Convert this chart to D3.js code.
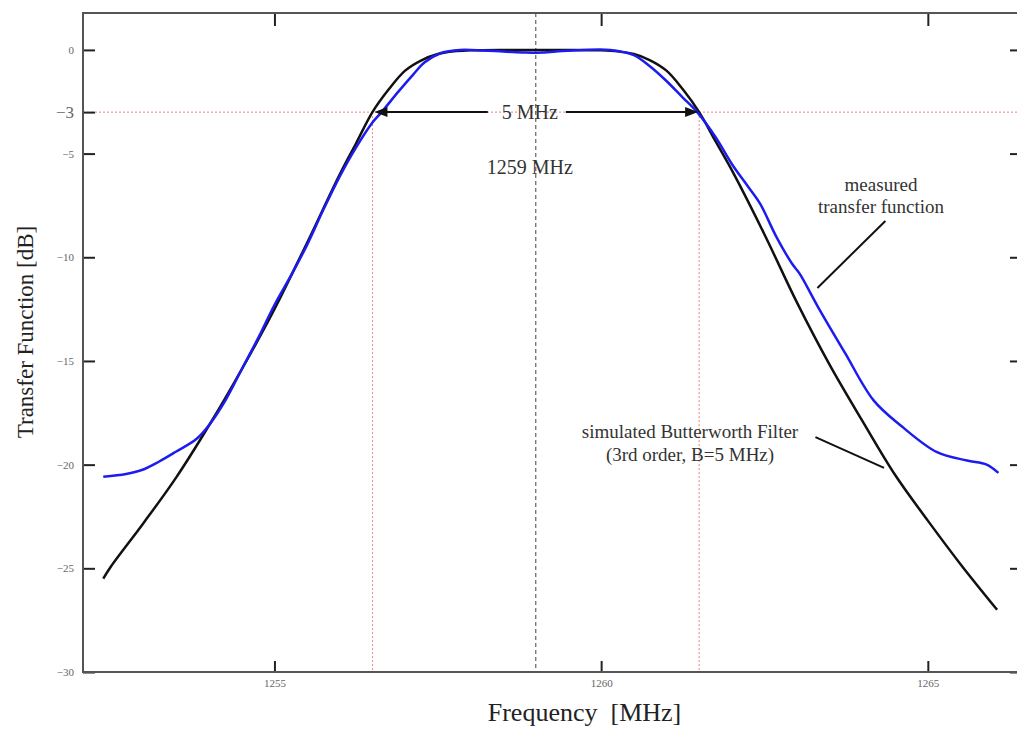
<!DOCTYPE html>
<html>
<head>
<meta charset="utf-8">
<script src="https://cdn.jsdelivr.net/npm/d3@7"></script>
<style>
	body { margin: 0; background: #fff; }
	text { font-family: "Liberation Serif", "Times New Roman", serif; }
</style>
</head>
<body>
<div id="chart"></div>
<script>

// simulated Butterworth filter (3rd order, B = 5 MHz)
let simFreq = [1252.38, 1252.5, 1253, 1253.5, 1254, 1254.5, 1255, 1255.5, 1256, 1256.25, 1256.5, 1256.75, 1257, 1257.25, 1257.5, 1257.75, 1258, 1258.5, 1259, 1259.5, 1260, 1260.25, 1260.5, 1260.75, 1261, 1261.25, 1261.5, 1261.75, 1262, 1262.5, 1263, 1263.5, 1264, 1264.5, 1265, 1265.5, 1266.06];
let simDb = [-25.5, -24.9, -22.8, -20.6, -18.1, -15.4, -12.5, -9.3, -6.0, -4.5, -3.0, -1.9, -1.0, -0.5, -0.2, -0.06, -0.02, 0, 0, 0, -0.02, -0.07, -0.2, -0.5, -1.0, -1.9, -3.0, -4.4, -5.8, -8.9, -12.2, -15.2, -17.9, -20.5, -22.7, -24.8, -27.0];

// measured transfer function
let measFreq = [1252.38, 1252.73, 1252.97, 1253.23, 1253.49, 1253.81, 1254.01, 1254.25, 1254.5, 1254.75, 1255, 1255.25, 1255.5, 1255.75, 1256, 1256.25, 1256.5, 1256.64, 1256.9, 1257.12, 1257.3, 1257.55, 1257.84, 1258.2, 1258.5, 1258.8, 1259.1, 1259.4, 1259.72, 1260.14, 1260.5, 1260.75, 1261, 1261.25, 1261.47, 1261.75, 1262, 1262.25, 1262.43, 1262.68, 1262.92, 1263.04, 1263.32, 1263.73, 1264.17, 1264.58, 1265.14, 1265.6, 1265.9, 1266.08];
let measDb = [-20.58, -20.45, -20.26, -19.86, -19.38, -18.75, -18.05, -16.9, -15.4, -13.9, -12.3, -10.9, -9.4, -7.7, -6.1, -4.7, -3.5, -3.0, -2.0, -1.2, -0.6, -0.15, 0, -0.03, -0.08, -0.12, -0.13, -0.05, 0, 0, -0.25, -0.8, -1.5, -2.3, -3.0, -4.2, -5.5, -6.6, -7.4, -9.0, -10.3, -10.8, -12.4, -14.6, -16.9, -18.1, -19.4, -19.8, -20.0, -20.4];

let xTicks = [1255, 1260, 1265];
let yTicks = [0, -3, -5, -10, -15, -20, -25, -30];

let centerFreq = 1259;
let bandEdges = [1256.5, 1261.5];
let cutoffDb = -3;


let chart = {};

chart.draw = function() {
	this.width = 1017;
	this.height = 731;
	this.left = 83;
	this.right = 1018;
	this.top = 13;
	this.bottom = 672;

	this.createSVG();
	this.createScales();
	this.createGuides();
	this.createAxes();
	this.createLines();
	this.createAnnotations();
}

chart.createSVG = function() {
	this.svg = d3.select('#chart')
		.append('svg')
			.attr('width', this.width)
			.attr('height', this.height)
			.style('background', '#fff');
}

chart.createScales = function() {
	this.xScale = d3.scaleLinear()
		.domain([1252.07, 1266.38])
		.range([this.left, this.right]);

	this.yScale = d3.scaleLinear()
		.domain([-30, 1.78])
		.range([this.bottom, this.top]);
}

chart.createGuides = function() {
	let that = this;

	// -3 dB line
	this.svg.append('line')
		.attr('x1', this.left)
		.attr('x2', this.right)
		.attr('y1', this.yScale(cutoffDb))
		.attr('y2', this.yScale(cutoffDb))
		.attr('stroke', '#f08080')
		.attr('stroke-width', 1)
		.attr('stroke-dasharray', '2,2');

	this.svg.selectAll('.edge')
		.data(bandEdges)
		.enter().append('line')
			.attr('class', 'edge')
			.attr('x1', function(d) { return that.xScale(d); })
			.attr('x2', function(d) { return that.xScale(d); })
			.attr('y1', this.yScale(cutoffDb))
			.attr('y2', this.bottom)
			.attr('stroke', '#f08080')
			.attr('stroke-width', 1)
			.attr('stroke-dasharray', '2,2');

	// centre frequency
	this.svg.append('line')
		.attr('x1', this.xScale(centerFreq))
		.attr('x2', this.xScale(centerFreq))
		.attr('y1', this.top)
		.attr('y2', this.bottom)
		.attr('stroke', '#444')
		.attr('stroke-width', 1)
		.attr('stroke-dasharray', '4,3');
}

chart.createAxes = function() {
	let that = this;

	let minus = function(d) {
		return d == 0 ? '0' : '\u2212' + Math.abs(d);
	};

	let yAxis = d3.axisLeft(this.yScale)
		.tickValues(yTicks)
		.tickSize(-12)
		.tickPadding(9)
		.tickFormat(minus);

	let gy = this.svg.append('g')
		.attr('transform', `translate(${this.left}, 0)`)
		.call(yAxis);
	gy.selectAll('text')
		.attr('fill', '#666')
		.style('font-size', function(d) { return d == -3 ? '17px' : '11px'; });

	let xAxis = d3.axisBottom(this.xScale)
		.tickValues(xTicks)
		.tickSize(-11)
		.tickPadding(7)
		.tickFormat(d3.format('d'));

	let gx = this.svg.append('g')
		.attr('transform', `translate(0, ${this.bottom})`)
		.call(xAxis);
	gx.selectAll('text')
		.attr('fill', '#666')
		.style('font-size', '11px');

	this.svg.append('g')
		.attr('transform', `translate(0, ${this.top})`)
		.call(d3.axisTop(this.xScale).tickValues(xTicks).tickSize(-13).tickFormat(''));

	this.svg.append('g')
		.attr('transform', `translate(${this.right}, 0)`)
		.call(d3.axisRight(this.yScale).tickValues(yTicks.filter(function(d) { return d != -3; })).tickSize(-8).tickFormat(''));

	this.svg.selectAll('.domain').remove();
	this.svg.selectAll('.tick line')
		.attr('stroke', '#222')
		.attr('stroke-width', 2);

	// frame
	this.svg.append('rect')
		.attr('x', this.left)
		.attr('y', this.top)
		.attr('width', this.right - this.left)
		.attr('height', this.bottom - this.top)
		.attr('fill', 'none')
		.attr('stroke', '#555')
		.attr('stroke-width', 2);

	this.svg.append('text')
		.attr('x', (this.left + this.right) / 2 + 34)
		.attr('y', 721)
		.attr('text-anchor', 'middle')
		.style('font-size', '26px')
		.attr('fill', '#222')
		.text('Frequency\u00a0\u00a0[MHz]');

	this.svg.append('text')
		.attr('transform', `translate(33, 332) rotate(-90)`)
		.attr('text-anchor', 'middle')
		.style('font-size', '23px')
		.attr('fill', '#222')
		.text('Transfer Function [dB]');
}

chart.createLines = function() {
	let that = this;

	let line = d3.line()
		.x(function(d) { return that.xScale(d[0]); })
		.y(function(d) { return that.yScale(d[1]); })
		.curve(d3.curveCatmullRom);

	this.svg.append('path')
		.datum(d3.zip(simFreq, simDb))
		.attr('d', line)
		.attr('fill', 'none')
		.attr('stroke', '#111')
		.attr('stroke-width', 2.5);

	this.svg.append('path')
		.datum(d3.zip(measFreq, measDb))
		.attr('d', line)
		.attr('fill', 'none')
		.attr('stroke', '#1c1cf0')
		.attr('stroke-width', 2.5);
}

chart.createAnnotations = function() {
	let y3 = this.yScale(cutoffDb);
	let xl = this.xScale(bandEdges[0]);
	let xr = this.xScale(bandEdges[1]);
	let xc = this.xScale(centerFreq);

	// 5 MHz arrow
	this.svg.append('line')
		.attr('x1', xl + 10).attr('x2', xc - 48)
		.attr('y1', y3).attr('y2', y3)
		.attr('stroke', '#111').attr('stroke-width', 2);
	this.svg.append('line')
		.attr('x1', xc + 30).attr('x2', xr - 10)
		.attr('y1', y3).attr('y2', y3)
		.attr('stroke', '#111').attr('stroke-width', 2);
	this.svg.append('path')
		.attr('d', `M${xl + 2},${y3} L${xl + 15},${y3 - 5} L${xl + 15},${y3 + 5} Z`)
		.attr('fill', '#111');
	this.svg.append('path')
		.attr('d', `M${xr - 1},${y3} L${xr - 14},${y3 - 5} L${xr - 14},${y3 + 5} Z`)
		.attr('fill', '#111');

	this.svg.append('text')
		.attr('x', xc - 6)
		.attr('y', y3 + 7)
		.attr('text-anchor', 'middle')
		.style('font-size', '20px')
		.attr('fill', '#333')
		.text('5 MHz');

	this.svg.append('text')
		.attr('x', xc - 6)
		.attr('y', 174)
		.attr('text-anchor', 'middle')
		.style('font-size', '20px')
		.attr('fill', '#333')
		.text('1259 MHz');

	this.svg.append('text')
		.attr('x', 881)
		.attr('y', 191)
		.attr('text-anchor', 'middle')
		.style('font-size', '19px')
		.attr('fill', '#333')
		.text('measured');
	this.svg.append('text')
		.attr('x', 881)
		.attr('y', 213)
		.attr('text-anchor', 'middle')
		.style('font-size', '19px')
		.attr('fill', '#333')
		.text('transfer function');
	this.svg.append('line')
		.attr('x1', this.xScale(1264.35)).attr('y1', this.yScale(-8.25))
		.attr('x2', this.xScale(1263.31)).attr('y2', this.yScale(-11.48))
		.attr('stroke', '#111').attr('stroke-width', 2);

	this.svg.append('text')
		.attr('x', 690)
		.attr('y', 438)
		.attr('text-anchor', 'middle')
		.style('font-size', '19px')
		.attr('fill', '#333')
		.text('simulated Butterworth Filter');
	this.svg.append('text')
		.attr('x', 690)
		.attr('y', 461)
		.attr('text-anchor', 'middle')
		.style('font-size', '19px')
		.attr('fill', '#333')
		.text('(3rd order, B=5 MHz)');
	this.svg.append('line')
		.attr('x1', this.xScale(1263.28)).attr('y1', this.yScale(-18.67))
		.attr('x2', this.xScale(1264.33)).attr('y2', this.yScale(-20.16))
		.attr('stroke', '#111').attr('stroke-width', 2);
}

chart.draw();

</script>
</body>
</html>
